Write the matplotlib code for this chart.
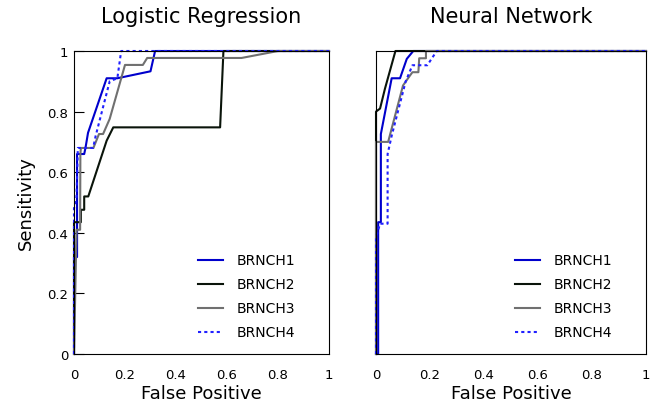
import matplotlib
matplotlib.use("Agg")
import matplotlib.pyplot as plt

# ROC curves, logistic regression
lr_fp_b1 = [0, 0, 0.012, 0.012, 0.04, 0.045, 0.055, 0.128, 0.17, 0.30, 0.318, 1]
lr_tp_b1 = [0, 0.32, 0.32, 0.66, 0.66, 0.68, 0.73, 0.91, 0.91, 0.933, 1, 1]
lr_fp_b2 = [0, 0, 0.027, 0.027, 0.04, 0.04, 0.056, 0.128, 0.154, 0.573, 0.586, 1]
lr_tp_b2 = [0, 0.435, 0.435, 0.476, 0.476, 0.52, 0.52, 0.704, 0.748, 0.748, 1, 1]
lr_fp_b3 = [0, 0.01, 0.024, 0.025, 0.027, 0.076, 0.098, 0.114, 0.14, 0.2, 0.27, 0.287, 0.657, 0.80, 1]
lr_tp_b3 = [0, 0.41, 0.41, 0.66, 0.68, 0.68, 0.726, 0.726, 0.776, 0.954, 0.954, 0.977, 0.977, 1, 1]
lr_fp_b4 = [0, 0, 0.01, 0.015, 0.075, 0.085, 0.14, 0.17, 0.185, 1]
lr_tp_b4 = [0, 0.48, 0.52, 0.68, 0.68, 0.72, 0.90, 0.91, 1, 1]

# ROC curves, neural network
nn_fp_b1 = [0, 0.008, 0.008, 0.018, 0.018, 0.058, 0.089, 0.114, 0.138, 1]
nn_tp_b1 = [0, 0, 0.435, 0.435, 0.726, 0.91, 0.91, 0.974, 1, 1]
nn_fp_b2 = [0, 0, 0.015, 0.033, 0.072, 1]
nn_tp_b2 = [0, 0.80, 0.81, 0.875, 1, 1]
nn_fp_b3 = [0, 0, 0.045, 0.10, 0.125, 0.135, 0.157, 0.16, 0.185, 0.185, 1]
nn_tp_b3 = [0, 0.70, 0.70, 0.886, 0.918, 0.93, 0.93, 0.976, 0.976, 1, 1]
nn_fp_b4 = [0, 0, 0.015, 0.043, 0.043, 0.058, 0.11, 0.135, 0.19, 0.225, 1]
nn_tp_b4 = [0, 0.385, 0.43, 0.43, 0.66, 0.72, 0.90, 0.953, 0.953, 1, 1]

labels = ["BRNCH1", "BRNCH2", "BRNCH3", "BRNCH4"]
ticks = [0, 0.2, 0.4, 0.6, 0.8, 1]
tick_labels = ["0", "0.2", "0.4", "0.6", "0.8", "1"]

colors = ["#0000cc", "#0a140a", "#707070", "#2020ff"]
styles = ["-", "-", "-", (0, (1.5, 1.5))]

fig = plt.figure(figsize=(6.67, 4.06), dpi=100)
ax1 = fig.add_axes([74 / 667, 1 - 355 / 406, 255 / 667, 303 / 406])
ax2 = fig.add_axes([376 / 667, 1 - 355 / 406, 270 / 667, 303 / 406])

lr_curves = [(lr_fp_b1, lr_tp_b1), (lr_fp_b2, lr_tp_b2), (lr_fp_b3, lr_tp_b3), (lr_fp_b4, lr_tp_b4)]
nn_curves = [(nn_fp_b1, nn_tp_b1), (nn_fp_b2, nn_tp_b2), (nn_fp_b3, nn_tp_b3), (nn_fp_b4, nn_tp_b4)]

for ax, curves, title, leg_x in [(ax1, lr_curves, "Logistic Regression", 0.486),
                                 (ax2, nn_curves, "Neural Network", 0.515)]:
    for (fp, tp), lab, c, ls in zip(curves, labels, colors, styles):
        ax.plot(fp, tp, color=c, linestyle=ls, linewidth=1.5, label=lab, clip_on=False)
    ax.set_xlim(0, 1)
    ax.set_ylim(0, 1)
    ax.set_xticks(ticks)
    ax.set_xticklabels(tick_labels)
    ax.tick_params(axis="x", length=0, pad=10, labelsize=9.5)
    ax.set_title(title, fontsize=15, pad=21)
    ax.set_xlabel("False Positive", fontsize=13, labelpad=2)
    ax.legend(loc="center left", bbox_to_anchor=(leg_x, 0.19), frameon=False,
              borderpad=0, borderaxespad=0, fontsize=10, handlelength=1.8,
              handletextpad=1.0, labelspacing=0.72)

ax1.set_yticks(ticks)
ax1.set_yticklabels(tick_labels)
ax1.tick_params(axis="y", direction="in", length=7, pad=4, labelsize=9.5)
ax1.set_ylabel("Sensitivity", fontsize=13, labelpad=9)

ax2.set_yticks([])

plt.savefig("out.png", dpi=100)
plt.close()
